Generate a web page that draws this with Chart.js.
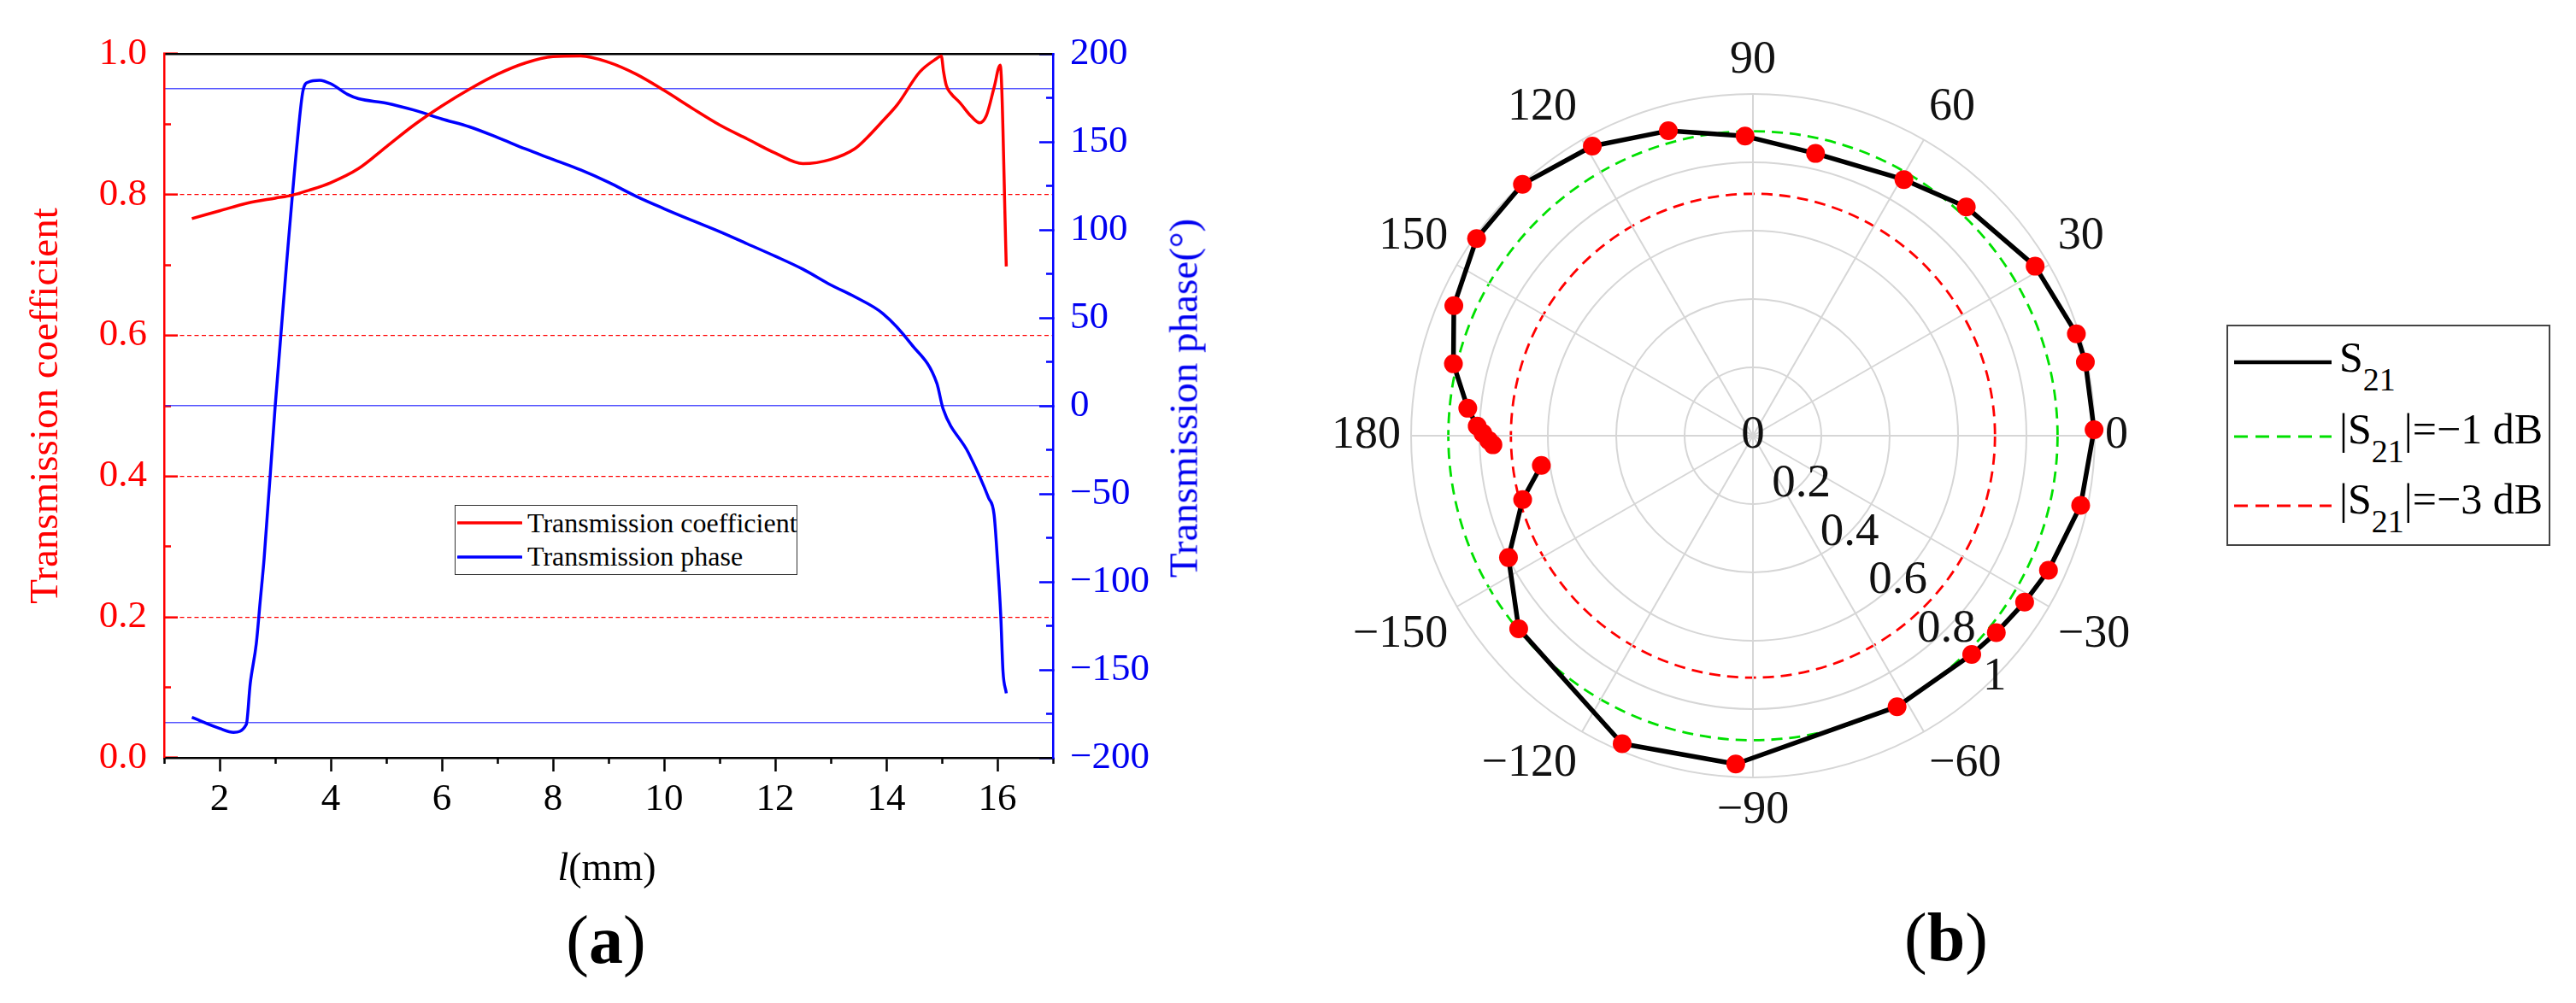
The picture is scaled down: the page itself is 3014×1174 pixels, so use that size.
<!DOCTYPE html>
<html>
<head>
<meta charset="utf-8">
<script src="https://cdn.jsdelivr.net/npm/chart.js@4.4.1/dist/chart.umd.min.js"></script>
<style>
  html, body { margin: 0; padding: 0; background: #fff; }
  body { width: 3014px; height: 1174px; position: relative; overflow: hidden;
         font-family: "Liberation Serif", "Times New Roman", serif; }
  canvas { position: absolute; }
  .txt { position: absolute; white-space: nowrap; line-height: 1; transform: translate(-50%, -50%); }
  .legend { position: absolute; box-sizing: border-box; background: #fff; }
  .legend svg, .legend span { position: absolute; white-space: nowrap; }
  .legend sub { font-size: 38px; vertical-align: -22px; line-height: 0; }
</style>
</head>
<body>
<canvas id="chartA" width="1440" height="1174" style="left:0;top:0"></canvas>
<canvas id="chartB" width="1200" height="932" style="left:1451px;top:44px"></canvas>

<!-- panel (a) overlays -->
<div class="txt" style="left:1385px;top:466px;font-size:47px;color:#0000f0;transform:translate(-50%,-50%) rotate(-90deg)">Transmission phase(°)</div>
<div class="txt" style="left:710px;top:1015px;font-size:46px"><i>l</i>(mm)</div>
<div class="txt" style="left:709px;top:1100px;font-size:80px">(<b>a</b>)</div>
<div class="legend" style="left:532px;top:591px;width:401px;height:82px;border:1.5px solid #333">
  <svg style="left:2px;top:15px" width="76" height="10"><line x1="1" y1="5" x2="75" y2="5" stroke="#ff0000" stroke-width="3.5" stroke-linecap="round"/></svg>
  <svg style="left:2px;top:55px" width="76" height="10"><line x1="1" y1="5" x2="75" y2="5" stroke="#0000ff" stroke-width="3.5" stroke-linecap="round"/></svg>
  <span style="left:84px;top:4px;font-size:32px;line-height:32px">Transmission coefficient</span>
  <span style="left:84px;top:43px;font-size:32px;line-height:32px">Transmission phase</span>
</div>

<!-- panel (b) overlays -->
<div class="txt" style="left:2277px;top:1097px;font-size:80px">(<b>b</b>)</div>
<div class="legend" style="left:2605px;top:380px;width:379px;height:259px;border:2px solid #444">
  <svg style="left:7px;top:36px" width="116" height="12"><line x1="0" y1="6" x2="114" y2="6" stroke="#000" stroke-width="4.5"/></svg>
  <svg style="left:7px;top:123px" width="116" height="12"><line x1="0" y1="6" x2="114" y2="6" stroke="#00e000" stroke-width="3" stroke-dasharray="16 9"/></svg>
  <svg style="left:7px;top:204px" width="116" height="12"><line x1="0" y1="6" x2="114" y2="6" stroke="#ff0000" stroke-width="3" stroke-dasharray="16 9"/></svg>
  <span style="left:130px;top:11px;font-size:50px;line-height:50px">S<sub>21</sub></span>
  <span style="left:130px;top:95px;font-size:50px;line-height:50px">|S<sub>21</sub>|=−1 dB</span>
  <span style="left:130px;top:177px;font-size:50px;line-height:50px">|S<sub>21</sub>|=−3 dB</span>
</div>

<script>
// ---- (a) transmission coefficient / phase versus l (mm) ----
const coefL = [1.5, 2.0, 2.5, 3.0, 3.3, 3.6, 4.0, 4.5, 5.0, 5.5, 6.0, 6.5, 7.0, 7.5, 8.0, 8.5, 9.0, 9.5, 10.0, 10.5,
  11.0, 11.5, 12.0, 12.5, 13.0, 13.43, 13.63, 13.94, 14.2, 14.6, 14.9, 14.99, 15.03, 15.08, 15.16, 15.32, 15.53, 15.68,
  15.80, 15.94, 16.05, 16.16];
const coefVal = [0.766, 0.777, 0.788, 0.795, 0.799, 0.806, 0.817, 0.837, 0.868, 0.899, 0.926, 0.950, 0.971, 0.987,
  0.996, 0.997, 0.988, 0.971, 0.948, 0.923, 0.899, 0.879, 0.859, 0.844, 0.850, 0.865, 0.879, 0.905, 0.928, 0.974,
  0.993, 0.997, 0.975, 0.955, 0.944, 0.931, 0.911, 0.902, 0.912, 0.952, 0.984, 0.698];

const phaseL = [1.5, 2.0, 2.25, 2.48, 2.55, 2.66, 2.73, 2.80, 3.0, 3.2, 3.4, 3.5, 3.6, 3.8, 4.0, 4.3, 4.5, 5.0, 5.5,
  6.0, 6.5, 7.0, 7.5, 8.0, 8.5, 9.0, 9.5, 10.0, 10.5, 11.0, 11.5, 12.0, 12.5, 13.0, 13.43, 13.94, 14.45, 14.91, 15.02,
  15.48, 15.84, 15.94, 16.0, 16.06, 16.1, 16.16];
const phaseVal = [-177, -183.3, -185.5, -181, -158, -135, -111, -87, 0, 79, 151, 179, 184, 185, 183, 177, 174.5, 172,
  168, 163, 158.5, 152.5, 146, 140, 134, 127, 119, 112, 105.4, 99, 92, 85, 77.6, 68.7, 62, 52.4, 35, 12.8, -1.5,
  -26.8, -52.3, -61.8, -87.2, -119, -150.6, -163.3];

const lTicks = [2, 4, 6, 8, 10, 12, 14, 16];
const lMinor = [1, 3, 5, 7, 9, 11, 13, 15, 17];
const coefTicks = [0, 0.2, 0.4, 0.6, 0.8, 1.0];
const coefTickText = ['0.0', '0.2', '0.4', '0.6', '0.8', '1.0'];
const coefMinor = [0.1, 0.3, 0.5, 0.7, 0.9];
const phaseTicks = [-200, -150, -100, -50, 0, 50, 100, 150, 200];
const phaseTickText = ['\u2212200', '\u2212150', '\u2212100', '\u221250', '0', '50', '100', '150', '200'];
const phaseMinor = [-175, -125, -75, -25, 25, 75, 125, 175];
const phaseGuides = [-180, 0, 180];

// ---- (b) S21 on a polar plot: phase (deg) and magnitude ----
const s21Phase = [-172.0, -164.4, -153.5, -140.4, -113.1, -93.0, -62.0, -45.1, -38.8, -31.6, -24.6, -11.8, 1.0,
  12.3, 17.4, 31.1, 47.1, 59.4, 77.3, 91.5, 105.6, 119.0, 132.5, 144.5, 156.5, 166.4, 174.4, 177.9, 179.4, -179.1, -177.8];
const s21Mag = [0.625, 0.699, 0.799, 0.888, 0.979, 0.962, 0.898, 0.905, 0.916, 0.932, 0.950, 0.980, 0.998, 0.996,
  0.992, 0.963, 0.915, 0.870, 0.846, 0.877, 0.926, 0.969, 0.998, 0.993, 0.954, 0.901, 0.838, 0.807, 0.790, 0.773, 0.761];
const angleTicks = [0, 30, 60, 90, 120, 150, 180, -150, -120, -90, -60, -30];
const angleTickText = ['0', '30', '60', '90', '120', '150', '180', '\u2212150', '\u2212120', '\u221290', '\u221260', '\u221230'];
const rTicks = [0, 0.2, 0.4, 0.6, 0.8, 1];
const rTickText = ['0', '0.2', '0.4', '0.6', '0.8', '1'];
const rTickAngle = -45;
const dbLevels = [-1, -3];
const dbMag = [0.891, 0.708];

const SERIF = '"Liberation Serif", "Times New Roman", serif';
Chart.defaults.font.family = SERIF;

const RED = '#ff0000', BLUE = '#0000ff';
const setTicks = list => scale => { scale.ticks = list.map(v => ({ value: v })); };

// ---------------- panel (a) ----------------
new Chart(document.getElementById('chartA'), {
  type: 'line',
  data: {
    datasets: [
      {
        label: 'Transmission coefficient',
        data: coefL.map((l, i) => ({ x: l, y: coefVal[i] })),
        xAxisID: 'x', yAxisID: 'y',
        borderColor: RED, borderWidth: 3.5, pointRadius: 0,
        cubicInterpolationMode: 'monotone'
      },
      {
        label: 'Transmission phase',
        data: phaseL.map((l, i) => ({ x: l, y: phaseVal[i] })),
        xAxisID: 'x', yAxisID: 'y2',
        borderColor: BLUE, borderWidth: 3.5, pointRadius: 0,
        cubicInterpolationMode: 'monotone'
      }
    ]
  },
  options: {
    responsive: false,
    animation: false,
    events: [],
    devicePixelRatio: 1,
    layout: { padding: { top: 47, left: 0, right: 0, bottom: 0 } },
    plugins: { legend: { display: false }, tooltip: { enabled: false } },
    scales: {
      x: {
        type: 'linear', position: 'bottom', min: 1, max: 17, weight: 1,
        afterBuildTicks: setTicks(lTicks),
        afterFit: s => { s.height = 287; },
        grid: { drawOnChartArea: false, tickLength: 16, tickColor: '#000', tickWidth: 2.5 },
        border: { color: '#000', width: 2.5 },
        ticks: { color: '#000', font: { size: 45 }, padding: 6, maxRotation: 0, autoSkip: false }
      },
      xm: {
        type: 'linear', position: 'bottom', min: 1, max: 17, weight: 0,
        afterBuildTicks: setTicks(lMinor),
        afterFit: s => { s.height = 0; },
        grid: { drawOnChartArea: false, tickLength: 7, tickColor: '#000', tickWidth: 2.5 },
        border: { display: false },
        ticks: { display: false }
      },
      xt: {
        type: 'linear', position: 'top', min: 1, max: 17,
        afterFit: s => { s.height = 0; },
        grid: { display: false },
        border: { color: '#000', width: 2.5 },
        ticks: { display: false }
      },
      y: {
        type: 'linear', position: 'left', min: 0, max: 1, weight: 1,
        afterBuildTicks: setTicks(coefTicks),
        afterFit: s => { s.width = 192; },
        grid: {
          drawOnChartArea: true,
          color: c => (c.tick && c.tick.value > 0.01 && c.tick.value < 0.99) ? RED : 'rgba(0,0,0,0)',
          lineWidth: 1.3,
          borderDash: [5, 3.5],
          tickLength: -16, tickColor: RED, tickWidth: 2.5
        },
        border: { color: RED, width: 2.5, dash: [5, 3.5] },
        ticks: {
          color: RED, font: { size: 45 }, padding: 36, autoSkip: false,
          callback: (v, i) => coefTickText[i]
        },
        title: {
          display: true, text: 'Transmission coefficient', color: RED,
          font: { size: 47 }, padding: { top: 26, bottom: 0 }
        }
      },
      ym: {
        type: 'linear', position: 'left', min: 0, max: 1, weight: 0,
        afterBuildTicks: setTicks(coefMinor),
        afterFit: s => { s.width = 0; },
        grid: { drawOnChartArea: false, tickLength: -8, tickColor: RED, tickWidth: 2.5 },
        border: { display: false },
        ticks: { display: false }
      },
      y2: {
        type: 'linear', position: 'right', min: -200, max: 200, weight: 1,
        afterBuildTicks: setTicks(phaseTicks),
        afterFit: s => { s.width = 208; },
        grid: { drawOnChartArea: false, tickLength: -16, tickColor: BLUE, tickWidth: 2.5 },
        border: { color: BLUE, width: 2.5 },
        ticks: {
          color: '#0000f0', font: { size: 45 }, padding: 36, autoSkip: false,
          callback: (v, i) => phaseTickText[i]
        }
      },
      y2m: {
        type: 'linear', position: 'right', min: -200, max: 200, weight: 0,
        afterBuildTicks: setTicks(phaseMinor),
        afterFit: s => { s.width = 0; },
        grid: { drawOnChartArea: false, tickLength: -8, tickColor: BLUE, tickWidth: 2.5 },
        border: { display: false },
        ticks: { display: false }
      },
      yg: {
        type: 'linear', position: 'right', min: -200, max: 200, weight: 0,
        afterBuildTicks: setTicks(phaseGuides),
        afterFit: s => { s.width = 0; },
        grid: { drawOnChartArea: true, drawTicks: false, color: 'rgba(30,30,255,0.75)', lineWidth: 1.6 },
        border: { display: false },
        ticks: { display: false }
      }
    }
  }
});

// ---------------- panel (b) ----------------
// radar scale with one label per half degree; polar angle 90 sits at index 0, angles run counter-clockwise
const STEP = 0.5;
const N = 360 / STEP;
const angleIndex = deg => ((Math.round((90 - deg) / STEP) % N) + N) % N;

const angleLabels = new Array(N).fill('');
angleTicks.forEach((a, k) => { angleLabels[angleIndex(a)] = angleTickText[k]; });

const sparse = pairs => {
  const d = new Array(N).fill(null);
  pairs.forEach(([deg, mag]) => { d[angleIndex(deg)] = mag; });
  return d;
};

// each consecutive pair of samples becomes its own short segment so the curve stays open
const segmentSets = s21Phase.slice(0, -1).map((deg, k) => ({
  data: sparse([[deg, s21Mag[k]], [s21Phase[k + 1], s21Mag[k + 1]]]),
  borderColor: '#000', borderWidth: 5.5, borderCapStyle: 'round', borderJoinStyle: 'round',
  pointRadius: 0, fill: false, spanGaps: true, order: 1
}));
const dotSet = {
  label: 'S21',
  data: sparse(s21Phase.map((deg, k) => [deg, s21Mag[k]])),
  showLine: false, fill: false, spanGaps: true,
  pointRadius: 11, pointBackgroundColor: RED, pointBorderWidth: 0, order: 0
};

const dbColor = v => (Math.abs(v - dbMag[0]) < 1e-6 ? '#00e000' : Math.abs(v - dbMag[1]) < 1e-6 ? RED : null);

const radialTickLabels = {
  id: 'radialTickLabels',
  beforeDatasetsDraw(chart) {
    const s = chart.scales.r, ctx = chart.ctx;
    const idx = angleIndex(rTickAngle);
    ctx.save();
    ctx.font = '55px ' + SERIF;
    ctx.fillStyle = '#111';
    ctx.textAlign = 'center';
    ctx.textBaseline = 'middle';
    rTicks.forEach((v, k) => {
      const p = s.getPointPosition(idx, s.getDistanceFromCenterForValue(v));
      ctx.fillText(rTickText[k], p.x, p.y);
    });
    ctx.restore();
  }
};

new Chart(document.getElementById('chartB'), {
  type: 'radar',
  data: { labels: angleLabels, datasets: [...segmentSets, dotSet] },
  options: {
    responsive: false,
    animation: false,
    events: [],
    devicePixelRatio: 1,
    layout: { padding: 0 },
    plugins: { legend: { display: false }, tooltip: { enabled: false } },
    scales: {
      r: {
        min: 0, max: 1, startAngle: 0,
        afterBuildTicks: setTicks(rTicks.concat(dbMag)),
        ticks: { display: false },
        grid: {
          circular: true,
          color: c => dbColor(c.tick.value) || '#d6d6d6',
          lineWidth: c => (dbColor(c.tick.value) ? 2.8 : 2),
          borderDash: c => (dbColor(c.tick.value) ? [13, 8] : [])
        },
        border: { dash: c => (dbColor(c.tick.value) ? [13, 8] : []) },
        angleLines: {
          color: c => (c.label ? '#d6d6d6' : ''),
          lineWidth: c => (c.label ? 2 : 0)
        },
        pointLabels: {
          display: true,
          color: '#111',
          padding: 12,
          font: { size: 54, lineHeight: 1 }
        }
      }
    }
  },
  plugins: [radialTickLabels]
});
</script>
</body>
</html>
